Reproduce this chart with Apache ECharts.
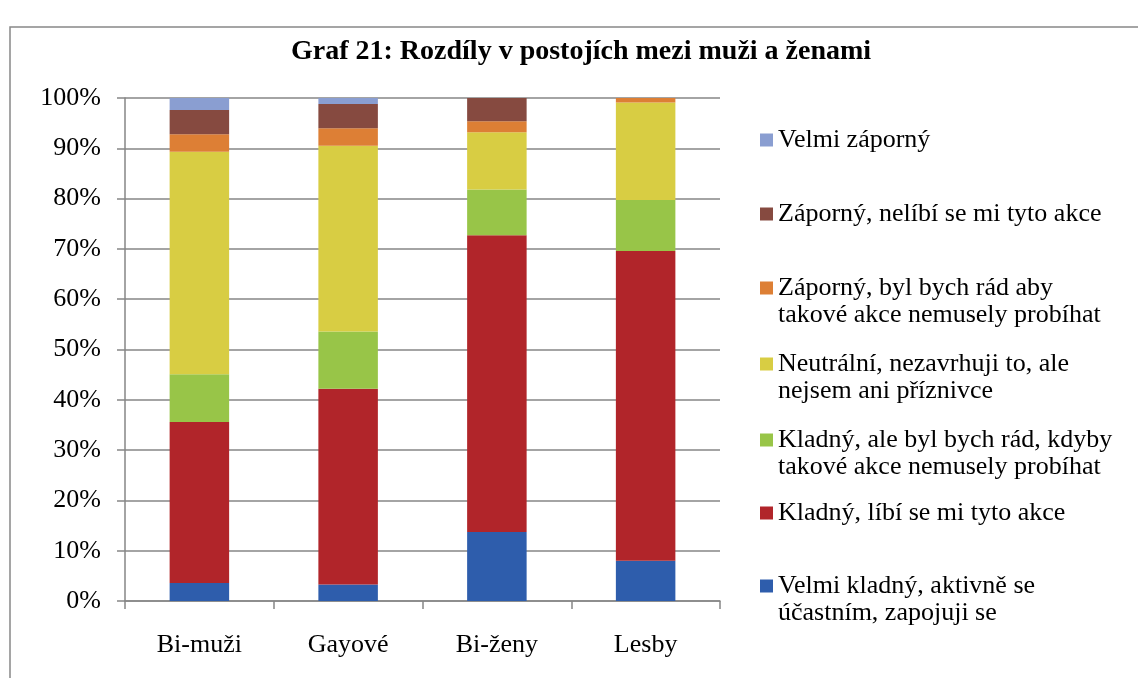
<!DOCTYPE html>
<html>
<head>
<meta charset="utf-8">
<script src="https://cdn.jsdelivr.net/npm/echarts@6/dist/echarts.min.js"></script>
<style>
  html, body { margin: 0; padding: 0; background: #fff; }
  #chart { width: 1138px; height: 678px; }
</style>
</head>
<body>
<div id="chart"></div>
<script>
// categories and stacked shares (%)
const categories = ["Bi-muži", "Gayové", "Bi-ženy", "Lesby"];
const velmiKladny = [3.6, 3.3, 13.7, 8.0];
const kladnyLibi = [32.0, 38.9, 59.0, 61.6];
const kladnyAle = [9.5, 11.4, 9.1, 10.1];
const neutralni = [44.2, 36.9, 11.4, 19.4];
const zapornyByl = [3.5, 3.5, 2.2, 0.9];
const zapornyNelibi = [4.8, 4.8, 4.6, 0];
const velmiZaporny = [2.4, 1.2, 0, 0];
const yTicks = [0, 10, 20, 30, 40, 50, 60, 70, 80, 90, 100];

// bottom -> top stacking order
const seriesNames = [
  "Velmi kladný, aktivně se\núčastním, zapojuji se",
  "Kladný, líbí se mi tyto akce",
  "Kladný, ale byl bych rád, kdyby\ntakové akce nemusely probíhat",
  "Neutrální, nezavrhuji to, ale\nnejsem ani příznivce",
  "Záporný, byl bych rád aby\ntakové akce nemusely probíhat",
  "Záporný, nelíbí se mi tyto akce",
  "Velmi záporný"
];
const seriesValues = [velmiKladny, kladnyLibi, kladnyAle, neutralni, zapornyByl, zapornyNelibi, velmiZaporny];
const colors = ["#2E5DAC", "#B1252A", "#98C548", "#D8CD43", "#DD7F35", "#864A40", "#8A9ED1"];

const font = "'Liberation Serif', 'Times New Roman', serif";
const lineH = 27.5;
// y of the first text line of each legend entry, top to bottom
const legendY = [140, 214, 288, 364, 440, 513, 586];

let chart = echarts.init(document.getElementById("chart"));

let series = seriesNames.map((name, i) => ({
  name: name,
  type: "bar",
  stack: "total",
  barCategoryGap: "60%",
  itemStyle: { color: colors[i] },
  data: seriesValues[i]
}));

// one legend per entry so the marker sits on the first text line
let legends = [];
for (let k = 0; k < seriesNames.length; k++) {
  let idx = seriesNames.length - 1 - k;
  let name = seriesNames[idx];
  let multi = name.includes("\n");
  let h = multi ? lineH * 3 : lineH;
  legends.push({
    data: [name],
    orient: "vertical",
    left: 760,
    top: legendY[k] - h / 2,
    padding: 0,
    itemWidth: 13,
    itemHeight: 13,
    itemGap: 0,
    selectedMode: false,
    icon: "rect",
    formatter: (n) => (n.includes("\n") ? " \n" + n : n),
    textStyle: { fontFamily: font, fontSize: 26, color: "#000", lineHeight: lineH }
  });
}

const option = {
  animation: false,
  backgroundColor: "#fff",
  title: {
    text: "Graf 21: Rozdíly v postojích mezi muži a ženami",
    left: 286,
    top: 33,
    textStyle: { fontFamily: font, fontSize: 28, fontWeight: "bold", color: "#000" }
  },
  legend: legends,
  grid: { left: 125, right: 418, top: 98, bottom: 77, containLabel: false },
  xAxis: {
    type: "category",
    data: categories,
    axisLine: { lineStyle: { color: "#868686", width: 1.5 } },
    axisTick: { show: true, length: 8, lineStyle: { color: "#868686", width: 1.5 } },
    axisLabel: { fontFamily: font, fontSize: 26, color: "#000", margin: 31 }
  },
  yAxis: {
    type: "value",
    min: yTicks[0],
    max: yTicks[yTicks.length - 1],
    interval: 10,
    axisLine: { show: true, lineStyle: { color: "#868686", width: 1.5 } },
    axisTick: { show: true, length: 8, lineStyle: { color: "#868686", width: 1.5 } },
    splitLine: { lineStyle: { color: "#868686", width: 1.5 } },
    axisLabel: { fontFamily: font, fontSize: 26, color: "#000", margin: 24, formatter: "{value}%" }
  },
  graphic: [
    {
      type: "rect",
      shape: { x: 10, y: 27, width: 1300, height: 900 },
      style: { fill: "none", stroke: "#888", lineWidth: 1.5 },
      silent: true,
      z: -10
    }
  ],
  series: series
};
chart.setOption(option);
window.addEventListener("resize", function () {
  chart.resize();
});
</script>
</body>
</html>
